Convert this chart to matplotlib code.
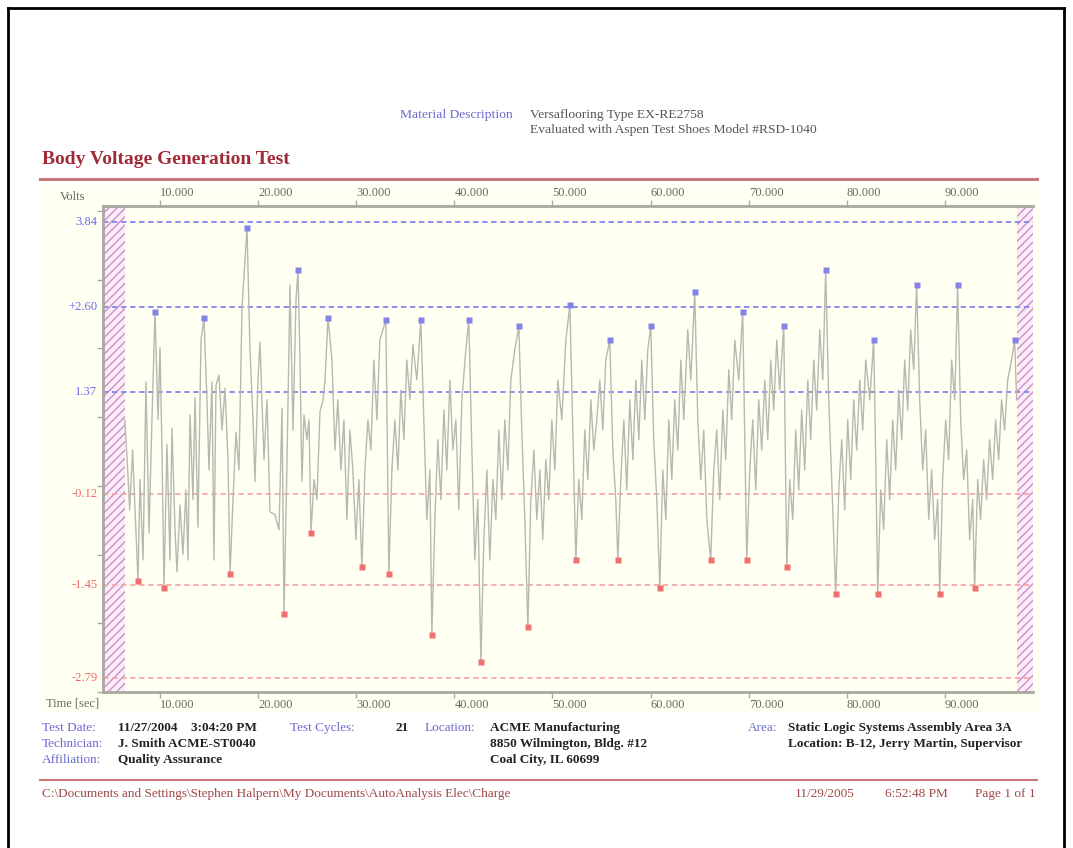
import matplotlib
matplotlib.use("Agg")
import matplotlib.pyplot as plt
from matplotlib.lines import Line2D
from matplotlib.patches import Rectangle

plt.rcParams['font.family'] = ['Liberation Serif', 'DejaVu Serif']
plt.rcParams['hatch.linewidth'] = 1.0

# measured body voltage (time in s, volts)
tiempo = [6.4, 6.7, 6.9, 7.2, 7.4, 7.75, 7.95, 8.26, 8.56, 8.87, 9.17, 9.48, 9.79, 9.99, 10.19, 10.40,
          10.70, 11.01, 11.21, 11.52, 11.72, 12.03, 12.33, 12.64, 12.84, 13.05, 13.35, 13.56, 13.86, 14.17,
          14.47, 14.78, 14.98, 15.29, 15.49, 15.70, 16.00, 16.31, 16.62, 16.92, 17.13, 17.43, 17.74, 18.04,
          18.35, 18.86, 19.16, 19.47, 19.67, 19.98, 20.18, 20.59, 20.90, 21.20, 21.71, 22.12, 22.43, 22.63,
          22.94, 23.24, 23.55, 23.85, 24.06, 24.26, 24.46, 24.67, 24.97, 25.18, 25.38, 25.69, 25.99, 26.30,
          26.61, 26.81, 27.12, 27.52, 27.82, 28.12, 28.43, 28.74, 29.04, 29.35, 29.65, 29.96, 30.26, 30.57,
          30.88, 31.18, 31.49, 31.79, 32.10, 32.40, 33.01, 33.32, 33.63, 33.93, 34.24, 34.54, 34.85, 35.15,
          35.46, 35.77, 36.17, 36.58, 36.89, 37.19, 37.50, 37.70, 38.01, 38.31, 38.62, 38.93, 39.23, 39.54,
          39.84, 40.15, 40.45, 40.76, 41.17, 41.47, 41.78, 42.08, 42.39, 42.70, 43.00, 43.31, 43.61, 43.92,
          44.22, 44.53, 44.84, 45.14, 45.45, 45.75, 46.16, 46.57, 46.87, 47.18, 47.49, 47.79, 48.10, 48.40,
          48.71, 49.01, 49.32, 49.62, 49.93, 50.24, 50.54, 50.95, 51.36, 51.77, 52.07, 52.38, 52.68, 52.99,
          53.29, 53.60, 53.91, 54.21, 54.52, 54.82, 55.13, 55.43, 55.84, 56.15, 56.45, 56.66, 56.96, 57.27,
          57.57, 57.88, 58.19, 58.49, 58.80, 59.10, 59.41, 59.71, 60.02, 60.32, 60.63, 60.94, 61.24, 61.55,
          61.85, 62.16, 62.46, 62.77, 63.08, 63.38, 63.79, 64.10, 64.50, 64.81, 65.11, 65.42, 65.73, 66.13,
          66.44, 66.74, 67.05, 67.36, 67.66, 67.97, 68.27, 68.58, 68.99, 69.39, 69.80, 70.11, 70.41, 70.72,
          71.02, 71.33, 71.64, 71.94, 72.25, 72.55, 72.86, 73.16, 73.57, 73.88, 74.18, 74.49, 74.79, 75.10,
          75.40, 75.71, 76.02, 76.32, 76.63, 76.93, 77.24, 77.55, 77.85, 78.16, 78.46, 78.87, 79.18, 79.48,
          79.79, 80.09, 80.40, 80.70, 81.01, 81.32, 81.62, 81.93, 82.34, 82.74, 82.95, 83.15, 83.46, 83.76,
          84.07, 84.37, 84.68, 84.98, 85.29, 85.60, 85.90, 86.21, 86.51, 86.82, 87.12, 87.43, 87.74, 88.04,
          88.35, 88.65, 88.96, 89.26, 89.47, 89.77, 90.08, 90.38, 90.69, 91.00, 91.30, 91.61, 91.91, 92.22,
          92.52, 92.83, 93.03, 93.34, 93.64, 93.95, 94.25, 94.56, 94.87, 95.17, 95.48, 95.78, 96.09, 96.40,
          96.80, 97.11, 97.31]
voltaje = [0.96, 0.23, -0.35, 0.52, -0.20, -1.38, 0.09, -1.08, 1.51, -0.68, 0.96, 2.53, 0.96, 2.01, 0.52, -1.48,
           0.60, -1.08, 0.84, -0.64, -1.25, -0.28, -1.00, -0.06, -1.08, 1.03, -0.20, 1.28, -0.60, 2.12,
           2.44, 1.25, 0.23, 1.51, -1.08, 1.47, 1.61, 0.81, 1.42, 0.38, -1.28, -0.20, 0.78, 0.23,
           2.59, 3.75, 1.98, 0.96, 0.06, 1.54, 2.09, 0.38, 1.25, -0.38, -0.42, -0.64, 1.13, -1.86,
           0.38, 2.92, 0.81, 2.70, 3.14, 1.83, 0.06, 1.03, 0.67, 0.96, -0.68, 0.09, -0.20, 1.08,
           1.25, 1.54, 2.44, 1.83, 0.52, 1.25, 0.23, 0.96, -0.49, 0.81, 0.23, -0.78, 0.09, -1.18,
           0.23, 0.96, 0.52, 1.83, 0.96, 2.12, 2.41, -1.28, 0.23, 0.96, 0.23, 1.39, 0.67, 1.83,
           1.25, 2.05, 1.54, 2.41, 0.96, -0.49, 0.23, -2.17, -0.49, 0.67, -0.20, 1.10, 0.23, 1.54,
           0.52, 0.96, -0.35, 1.25, 1.98, 2.41, 0.52, -1.08, -0.20, -2.56, -0.78, 0.23, -1.08, 0.09,
           -0.49, 0.81, -0.20, 0.96, 0.23, 1.54, 1.98, 2.32, 0.81, -0.49, -2.06, -0.20, 0.52, -0.49,
           0.23, -0.78, 0.38, -0.20, 0.96, 0.23, 1.54, 0.96, 2.12, 2.63, 0.81, -1.08, 0.09, -0.49,
           0.81, 0.09, 1.25, 0.52, 0.96, 1.54, 0.81, 1.83, 2.12, 0.52, -0.20, -1.08, 0.09, 0.96,
           -0.06, 1.25, 0.38, 1.54, 0.67, 1.83, 0.96, 1.98, 2.32, 0.67, -0.20, -1.48, 0.23, -0.49,
           0.96, 0.09, 1.25, 0.52, 1.83, 0.96, 2.27, 1.54, 2.82, 0.96, 0.09, 0.81, -0.49, -1.08,
           0.23, 0.81, -0.20, 1.10, 0.38, 1.69, 0.96, 2.12, 1.54, 2.53, -1.08, 0.23, 0.96, -0.06,
           1.25, 0.52, 1.54, 0.67, 1.83, 1.10, 2.12, 1.39, 2.32, -1.18, 0.09, -0.49, 0.81, -0.06,
           1.10, 0.23, 1.54, 0.67, 1.83, 1.10, 2.27, 1.54, 3.14, 1.25, 0.09, -1.58, -0.06, 0.67,
           -0.35, 0.96, 0.09, 1.25, 0.52, 1.54, 0.81, 1.83, 1.25, 2.12, 0.38, -1.58, -0.06, -0.64,
           0.67, -0.20, 0.96, 0.23, 1.39, 0.67, 1.83, 1.10, 2.27, 1.69, 2.92, 1.25, 0.23, 0.81,
           -0.49, 0.23, -0.78, -0.20, -1.58, 0.09, 0.96, 0.38, 1.83, 1.25, 2.92, 0.96, 0.09, 0.52,
           -0.78, -0.20, -1.48, 0.09, -0.49, 0.38, -0.20, 0.67, 0.09, 0.96, 0.38, 1.25, 0.81, 1.54,
           1.83, 2.12, 1.25]

# peaks (blue) and valleys (red)
pico_t = [9.48, 14.47, 18.86, 24.06, 27.12, 33.01, 36.58, 41.47, 46.57, 51.77, 55.84, 60.02, 64.50,
          69.39, 73.57, 77.85, 82.74, 87.12, 91.30, 97.11]
pico_v = [2.53, 2.44, 3.75, 3.14, 2.44, 2.41, 2.41, 2.41, 2.32, 2.63, 2.12, 2.32, 2.82,
          2.53, 2.32, 3.14, 2.12, 2.92, 2.92, 2.12]
valle_t = [7.75, 10.40, 17.13, 22.63, 25.38, 30.57, 33.32, 37.70, 42.70, 47.49, 52.38, 56.66, 60.94,
           66.13, 69.80, 73.88, 78.87, 83.15, 89.47, 93.03]
valle_v = [-1.38, -1.48, -1.28, -1.86, -0.68, -1.18, -1.28, -2.17, -2.56, -2.06, -1.08, -1.08, -1.48,
           -1.08, -1.08, -1.18, -1.58, -1.58, -1.58, -1.48]

# reference levels
nivel_pos = [3.84, 2.60, 1.37]
nivel_pos_txt = ['3.84', '+2.60', '1.37']
nivel_neg = [-0.12, -1.45, -2.79]
nivel_neg_txt = ['-0.12', '-1.45', '-2.79']

ticks_t = [10, 20, 30, 40, 50, 60, 70, 80, 90]
ticks_t_txt = ['10.000', '20.000', '30.000', '40.000', '50.000', '60.000', '70.000', '80.000', '90.000']
ticks_v = [-3, -2, -1, 0, 1, 2, 3, 4]

azul_txt = '#6a6ad0'
rojo_txt = '#a02a36'
gris = '#a8a8a0'

W, H = 1073, 848
fig = plt.figure(figsize=(W / 100, H / 100), dpi=100)
fig.patch.set_facecolor('white')

def fx(px):
    return px / W

def fy(py):
    return 1 - py / H

# page border
for xs, ys in [([8, 8], [8, 848]), ([8, 1064], [8, 8]), ([1064, 1064], [8, 848])]:
    fig.add_artist(Line2D([fx(v) for v in xs], [fy(v) for v in ys], color='black', lw=2))

# header
fig.text(fx(400), fy(115), 'Material Description', color=azul_txt, fontsize=9.7, va='center')
fig.text(fx(530), fy(115), 'Versaflooring Type EX-RE2758', color='#555555', fontsize=9.7, va='center')
fig.text(fx(530), fy(130), 'Evaluated with Aspen Test Shoes Model #RSD-1040', color='#555555', fontsize=9.7, va='center')

fig.text(fx(42), fy(160), 'Body Voltage Generation Test', color=rojo_txt, fontsize=14,
         fontweight='bold', va='center')
fig.add_artist(Line2D([fx(40), fx(1037)], [fy(179), fy(179)], color='#c87878', lw=2.2))

# chart panel
fig.add_artist(Rectangle((fx(40), fy(712)), fx(1000), (712 - 185) / H, facecolor='#fffff2',
                         edgecolor='none', zorder=0))

ax = fig.add_axes([fx(103), fy(692), fx(930), (692 - 206) / H])
ax.set_facecolor('#fffff2')
ax.set_xlim(4.18, 98.98)
ax.set_ylim(-3.0, 4.07)

ax.axvspan(4.18, 6.42, facecolor='#faeef6', edgecolor='#cf8ccf', hatch='////', lw=0, zorder=1)
ax.axvspan(97.35, 98.98, facecolor='#faeef6', edgecolor='#cf8ccf', hatch='////', lw=0, zorder=1)

for v in nivel_pos:
    ax.axhline(v, color='#8484f0', lw=1.3, ls=(0, (3, 2)), zorder=2)
for v in nivel_neg:
    ax.axhline(v, color='#f4a8a8', lw=1.3, ls=(0, (3, 2)), zorder=2)

ax.plot(tiempo, voltaje, color='#b8b8b0', lw=1.0, zorder=3)
ax.plot(pico_t, pico_v, 's', color='#8484e8', ms=4, mec='none', zorder=4)
ax.plot(valle_t, valle_v, 's', color='#f07070', ms=4, mec='none', zorder=4)

for s in ['left', 'top', 'bottom']:
    ax.spines[s].set_color(gris)
    ax.spines[s].set_linewidth(2)
ax.spines['right'].set_visible(False)

ax.set_yticks(ticks_v)
ax.set_yticklabels([])
ax.tick_params(axis='y', length=4, width=1, color=gris, direction='out')

ax.set_xticks(ticks_t)
ax.set_xticklabels(ticks_t_txt, fontsize=9, color='#6a6a62')
ax.tick_params(axis='x', length=4, width=1, color=gris, direction='out', top=True,
               labeltop=True, labelbottom=True, pad=1)
for t in ax.xaxis.get_major_ticks():
    t.label1.set_horizontalalignment('left')
    t.label2.set_horizontalalignment('left')

for v, s in zip(nivel_pos, nivel_pos_txt):
    ax.text(-0.006, v, s, transform=ax.get_yaxis_transform(), ha='right', va='center',
            fontsize=9, color='#6a6af0')
for v, s in zip(nivel_neg, nivel_neg_txt):
    ax.text(-0.006, v, s, transform=ax.get_yaxis_transform(), ha='right', va='center',
            fontsize=9, color='#f06a6a')

fig.text(fx(60), fy(197), 'Volts', color='#6a6a62', fontsize=9, va='center')
fig.text(fx(46), fy(703), 'Time [sec]', color='#6a6a62', fontsize=9, va='center')

# info block
info_lbl = [(42, 728, 'Test Date:'), (42, 744, 'Technician:'), (42, 760, 'Affiliation:'),
            (290, 728, 'Test Cycles:'), (425, 728, 'Location:'), (748, 728, 'Area:')]
info_val = [(118, 728, '11/27/2004    3:04:20 PM'), (118, 744, 'J. Smith ACME-ST0040'),
            (118, 760, 'Quality Assurance'), (396, 728, '21'), (490, 728, 'ACME Manufacturing'),
            (490, 744, '8850 Wilmington, Bldg. #12'), (490, 760, 'Coal City, IL 60699'),
            (788, 728, 'Static Logic Systems Assembly Area 3A'),
            (788, 744, 'Location: B-12, Jerry Martin, Supervisor')]
for x, y, s in info_lbl:
    fig.text(fx(x), fy(y), s, color=azul_txt, fontsize=9.5, va='center')
for x, y, s in info_val:
    fig.text(fx(x), fy(y), s, color='#222222', fontsize=9.5, va='center', fontweight='bold')

# footer
fig.add_artist(Line2D([fx(40), fx(1037)], [fy(780), fy(780)], color='#c87878', lw=1.5))
fig.text(fx(42), fy(794), r'C:\Documents and Settings\Stephen Halpern\My Documents\AutoAnalysis Elec\Charge',
         color='#a04848', fontsize=9.5, va='center')
fig.text(fx(795), fy(794), '11/29/2005', color='#a04848', fontsize=9.5, va='center')
fig.text(fx(885), fy(794), '6:52:48 PM', color='#a04848', fontsize=9.5, va='center')
fig.text(fx(975), fy(794), 'Page 1 of 1', color='#a04848', fontsize=9.5, va='center')

fig.savefig('out.png', dpi=100)
